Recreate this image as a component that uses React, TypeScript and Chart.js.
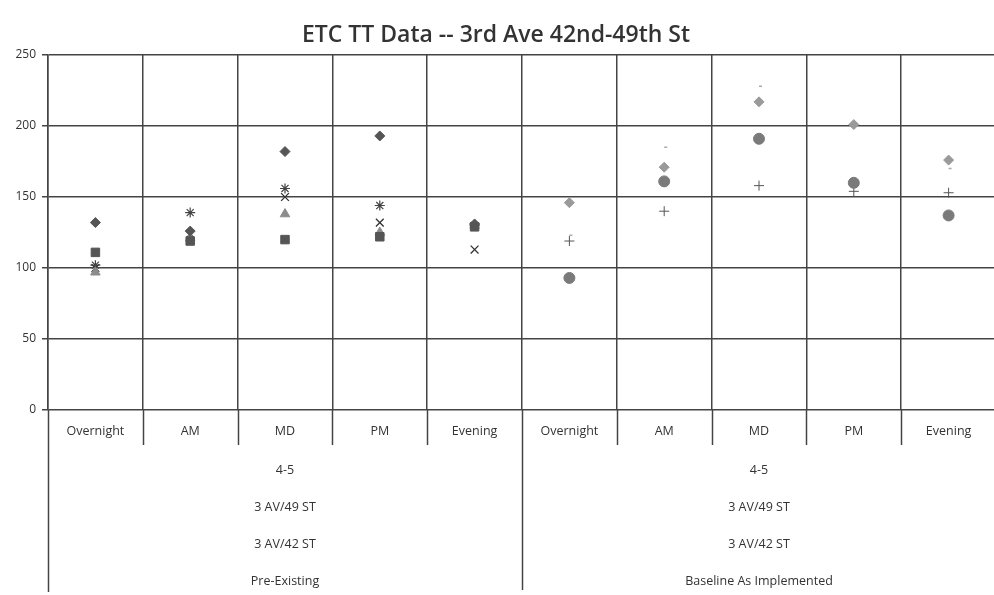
import React, { useEffect, useRef } from "react";
import { Chart, registerables } from "chart.js";

Chart.register(...registerables);

const TITLE = "ETC TT Data -- 3rd Ave 42nd-49th St";
const periods = ["Overnight", "AM", "MD", "PM", "Evening", "Overnight", "AM", "MD", "PM", "Evening"];
const groupLines = ["4-5", "3 AV/49 ST", "3 AV/42 ST"];
const groups = ["Pre-Existing", "Baseline As Implemented"];
const yTicks = [0, 50, 100, 150, 200, 250];

// Pre-Existing series (first 5 categories)
const preDiamond = [132, 126, 182, 193, 131, null, null, null, null, null];
const preSquare = [111, 119, 120, 122, 129, null, null, null, null, null];
const preTriangle = [97, 121, 138, 125, 130, null, null, null, null, null];
const preX = [100, 124, 150, 132, 113, null, null, null, null, null];
const preStar = [102, 139, 156, 144, 130, null, null, null, null, null];
// Baseline As Implemented series (last 5 categories)
const baseCircle = [null, null, null, null, null, 93, 161, 191, 160, 137];
const basePlus = [null, null, null, null, null, 119, 140, 158, 154, 153];
const baseDiamond = [null, null, null, null, null, 146, 171, 217, 201, 176];
const baseDash = [null, null, null, null, null, 123, 185, 228, 201, 170];

const FONT = "'Open Sans', 'Noto Sans', sans-serif";

const overlayPlugin = {
  id: "overlay",
  afterDraw(chart: any) {
    const ctx = chart.ctx;
    const x = chart.scales.x;
    const area = chart.chartArea;
    const n = periods.length;
    const w = (area.right - area.left) / n;
    ctx.save();
    // title
    ctx.fillStyle = "#333";
    ctx.font = "600 23px " + FONT;
    ctx.textAlign = "center";
    ctx.textBaseline = "middle";
    ctx.fillText(TITLE, 496, 35);
    // category separators in label row
    ctx.strokeStyle = "#444";
    ctx.lineWidth = 1.5;
    for (let i = 1; i < n; i++) {
      const px = Math.round(area.left + i * w) + 0.5;
      ctx.beginPath();
      ctx.moveTo(px, area.bottom);
      ctx.lineTo(px, area.bottom + 35);
      ctx.stroke();
    }
    // left border down
    ctx.beginPath();
    ctx.moveTo(area.left + 0.5, area.bottom);
    ctx.lineTo(area.left + 0.5, area.bottom + 182);
    ctx.stroke();
    // group separator
    const gx = Math.round(area.left + 5 * w) + 0.5;
    ctx.beginPath();
    ctx.moveTo(gx, area.bottom + 35);
    ctx.lineTo(gx, area.bottom + 180);
    ctx.stroke();
    // group labels
    ctx.font = "12.5px " + FONT;
    ctx.fillStyle = "#333";
    const centers = [
      (x.getPixelForValue(0) + x.getPixelForValue(4)) / 2,
      (x.getPixelForValue(5) + x.getPixelForValue(9)) / 2,
    ];
    centers.forEach((cx, gi) => {
      const lines = [...groupLines, groups[gi]];
      lines.forEach((t, li) => {
        ctx.fillText(t, cx, area.bottom + 60 + li * 37);
      });
    });
    ctx.restore();
  },
};

export default function App() {
  const ref = useRef<HTMLCanvasElement>(null);
  useEffect(() => {
    if (!ref.current) return;
    const mk = (label: string, data: any[], style: string, color: string, radius: number, border?: string, bw = 1) => ({
      label,
      data,
      showLine: false,
      pointStyle: style,
      pointRadius: radius,
      pointHoverRadius: radius,
      backgroundColor: color,
      borderColor: border || color,
      pointBorderWidth: bw,
    });
    const chart = new Chart(ref.current, {
      type: "line",
      data: {
        labels: periods,
        datasets: [
          mk("Pre diamond", preDiamond, "rectRot", "#555", 5),
          mk("Pre square", preSquare, "rect", "#555", 6),
          mk("Pre triangle", preTriangle, "triangle", "#8c8c8c", 5.5),
          mk("Pre x", preX, "crossRot", "#333", 5.5, "#333", 1.3),
          mk("Pre star", preStar, "star", "#444", 5, "#444", 1.2),
          mk("Base circle", baseCircle, "circle", "#7a7a7a", 5.5),
          mk("Base plus", basePlus, "cross", "#555", 5, "#555", 1),
          mk("Base diamond", baseDiamond, "rectRot", "#9a9a9a", 5),
          mk("Base dash", baseDash, "dash", "#aaa", 3, "#aaa", 1.5),
        ] as any,
      },
      options: {
        animation: false,
        responsive: false,
        maintainAspectRatio: false,
        layout: { padding: { top: 55, left: 0, right: 0, bottom: 0 } },
        plugins: {
          legend: { display: false },
          title: { display: false },
          tooltip: { enabled: false },
        },
        scales: {
          x: {
            type: "category",
            offset: true,
            grid: { offset: true, color: "#444", lineWidth: 1.5, drawTicks: false },
            border: { display: false },
            ticks: { color: "#333", font: { size: 12.5, family: FONT }, padding: 14, maxRotation: 0, autoSkip: false },
            afterFit(s: any) { s.height = 185; },
          },
          y: {
            min: 0,
            max: 250,
            afterBuildTicks(s: any) { s.ticks = yTicks.map((v) => ({ value: v })); },
            grid: { color: "#444", lineWidth: 1.5, tickLength: 6 },
            border: { color: "#444", width: 1.5 },
            ticks: { color: "#333", font: { size: 12, family: FONT }, padding: 6 },
            afterFit(s: any) { s.width = 48; },
          },
        },
      },
      plugins: [overlayPlugin],
    } as any);
    return () => chart.destroy();
  }, []);
  return (
    <div style={{ position: "fixed", left: 0, top: 0, width: 994, height: 595, overflow: "hidden", background: "#fff" }}>
      <canvas ref={ref} width={1003} height={595} style={{ display: "block" }} />
    </div>
  );
}
